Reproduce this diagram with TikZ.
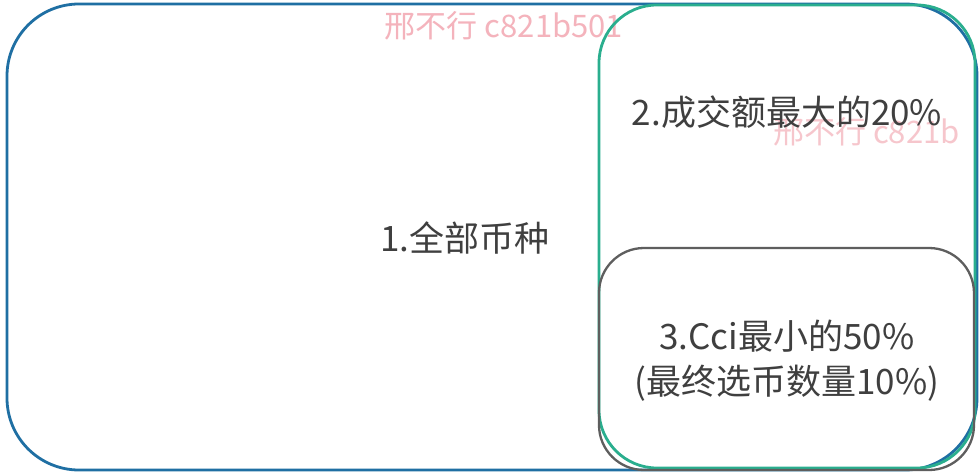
\documentclass[tikz,border=0pt]{standalone}
\usepackage{fontspec}
\newfontfamily\cjk{Noto Sans CJK SC}
\definecolor{outerblue}{HTML}{1F6FA3}
\definecolor{tealline}{HTML}{2AAE8E}
\definecolor{grayline}{HTML}{5E5E5E}
\definecolor{textgray}{HTML}{3F3F3F}
\definecolor{wmpink}{HTML}{F4B3BC}
\tikzset{
  region/.style={draw, rounded corners=#1, inner sep=0pt, line width=2.8pt},
  label/.style={font=\cjk\fontsize{35}{45}\selectfont, text=textgray, align=center, inner sep=0pt},
  wm/.style={font=\cjk\light\fontsize{31}{32}\selectfont, text=wmpink, inner sep=0pt}
}
\providecommand\light{}
\begin{document}
\begin{tikzpicture}[x=1pt,y=-1pt]
\useasboundingbox (0,0) rectangle (980,476);
\fill[white] (0,0) rectangle (980,476);
\node[wm, anchor=center] (wm1) at (504,26) {邢不行 c821b501};
\node[wm, anchor=west, opacity=0.75] (wm2) at (773,132) {邢不行 c821b};
\node[region=72pt, draw=outerblue, minimum width=970pt, minimum height=466pt] (all) at (492,237) {};
\node[region=58pt, draw=tealline, minimum width=376pt, minimum height=463pt] (top) at (787,236.5) {};
\node[region=45pt, draw=grayline, line width=2.3pt, minimum width=375pt, minimum height=222pt] (cci) at (786.5,359) {};
\node[label] (t1) at (465,238) {1.全部币种};
\node[label] (t2) at (787,112) {2.成交额最大的20\%};
\node[label] (t3) at (787,361) {3.Cci最小的50\%\\(最终选币数量10\%)};
\end{tikzpicture}
\end{document}
